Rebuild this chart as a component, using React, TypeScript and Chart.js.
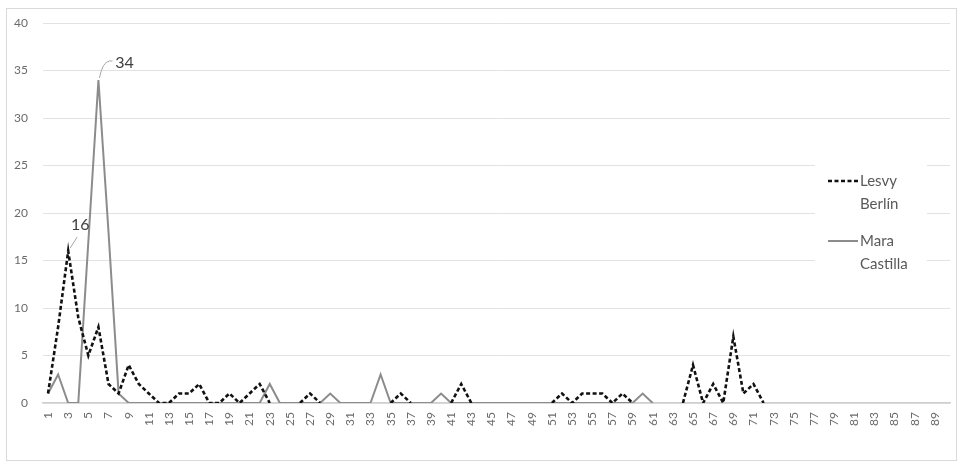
import React, { useEffect, useRef } from "react";
import { Chart, registerables } from "chart.js";

Chart.register(...registerables);

const categories: string[] = Array.from({ length: 90 }, (_, i) => String(i + 1));

const seriesNames = ["Lesvy Berlín", "Mara Castilla"];

const lesvyBerlin: (number | null)[] = [
  1, 8, 16, 9, 5, 8, 2, 1, 4, 2,
  1, 0, 0, 1, 1, 2, 0, 0, 1, 0,
  1, 2, 0, null, null, 0, 1, 0, null, null,
  null, null, null, null, 0, 1, 0, null, null, null,
  0, 2, 0, null, null, null, null, null, null, null,
  0, 1, 0, 1, 1, 1, 0, 1, 0, null,
  null, null, null, 0, 4, 0, 2, 0, 7, 1,
  2, 0, null, null, null, null, null, null, null, null,
  null, null, null, null, null, null, null, null, null, null,
];

const maraCastilla: (number | null)[] = [
  1, 3, 0, 0, 17, 34, 18, 1, 0, 0,
  0, 0, 0, 0, 0, 0, 0, 0, 0, 0,
  0, 0, 2, 0, 0, 0, 0, 0, 1, 0,
  0, 0, 0, 3, 0, 0, 0, 0, 0, 1,
  0, 0, 0, 0, 0, 0, 0, 0, 0, 0,
  0, 0, 0, 0, 0, 0, 0, 0, 0, 1,
  0, null, null, null, null, null, null, null, null, null,
  null, null, null, null, null, null, null, null, null, null,
  null, null, null, null, null, null, null, null, null, null,
];

const yTicks = [0, 5, 10, 15, 20, 25, 30, 35, 40];

const FONT = "Lato, 'Open Sans', sans-serif";

// label placement offsets (style only)
const labelStyle = [
  { dx: 12, dy: -26, lx1: 2, ly1: -3, lx2: 9, ly2: -14, curve: false },
  { dx: 26, dy: -17, lx1: 1, ly1: -2, lx2: 11, ly2: -19, curve: true },
];

const dataLabelPlugin = {
  id: "dataLabelPlugin",
  afterDatasetsDraw(chart: any) {
    const ctx = chart.ctx;
    chart.data.datasets.forEach((ds: any, di: number) => {
      const vals = ds.data as (number | null)[];
      let mi = 0;
      vals.forEach((v, i) => {
        if (v != null && v > (vals[mi] ?? -Infinity)) mi = i;
      });
      const pt = chart.getDatasetMeta(di).data[mi];
      if (!pt) return;
      const st = labelStyle[di];
      ctx.save();
      ctx.strokeStyle = "#a6a6a6";
      ctx.lineWidth = 1;
      ctx.beginPath();
      ctx.moveTo(pt.x + st.lx1, pt.y + st.ly1);
      if (st.curve) {
        ctx.quadraticCurveTo(pt.x + st.lx1 + 3, pt.y + st.ly2 + 1, pt.x + st.lx2, pt.y + st.ly2);
        ctx.lineTo(pt.x + st.lx2 + 3, pt.y + st.ly2);
      } else {
        ctx.lineTo(pt.x + st.lx2, pt.y + st.ly2);
      }
      ctx.stroke();
      ctx.fillStyle = "#404040";
      ctx.font = `16px ${FONT}`;
      ctx.textAlign = "center";
      ctx.textBaseline = "middle";
      ctx.fillText(String(vals[mi]), pt.x + st.dx, pt.y + st.dy);
      ctx.restore();
    });
  },
};

const legendPlugin = {
  id: "customLegend",
  afterDraw(chart: any) {
    const ctx = chart.ctx;
    const area = chart.chartArea;
    const bx = area.right - 135;
    const by = area.top + 142;
    ctx.save();
    ctx.fillStyle = "#ffffff";
    ctx.fillRect(bx, by, 112, 116);
    chart.data.datasets.forEach((ds: any, i: number) => {
      const ly = by + 16 + i * 60;
      ctx.strokeStyle = ds.borderColor;
      ctx.lineWidth = ds.borderWidth;
      ctx.setLineDash(ds.borderDash || []);
      ctx.beginPath();
      ctx.moveTo(bx + 13, ly);
      ctx.lineTo(bx + 43, ly);
      ctx.stroke();
      ctx.setLineDash([]);
      ctx.fillStyle = "#595959";
      ctx.font = `15px ${FONT}`;
      ctx.textAlign = "left";
      ctx.textBaseline = "middle";
      const parts = String(ds.label).split(" ");
      parts.forEach((p, k) => ctx.fillText(p, bx + 45, ly + k * 23));
    });
    ctx.restore();
  },
};

export default function App() {
  const ref = useRef<HTMLCanvasElement | null>(null);
  useEffect(() => {
    if (!ref.current) return;
    const chart = new Chart(ref.current, {
      type: "line",
      data: {
        labels: categories,
        datasets: [
          {
            label: seriesNames[0],
            data: lesvyBerlin,
            borderColor: "#111111",
            borderWidth: 2.6,
            borderDash: [4, 2.5],
            pointRadius: 0,
            tension: 0,
            spanGaps: false,
          },
          {
            label: seriesNames[1],
            data: maraCastilla,
            borderColor: "#8c8c8c",
            borderWidth: 2,
            pointRadius: 0,
            tension: 0,
            spanGaps: false,
          },
        ],
      },
      options: {
        responsive: false,
        animation: false,
        layout: { padding: { top: 14, right: 6, left: 0, bottom: 0 } },
        plugins: {
          legend: { display: false },
          tooltip: { enabled: false },
        },
        scales: {
          x: {
            offset: true,
            grid: { display: false, drawTicks: false, offset: true },
            border: { display: true, color: "#cfcfcf", width: 1.5 },
            ticks: {
              autoSkip: false,
              maxRotation: 90,
              minRotation: 90,
              padding: 9,
              color: "#6b6b6b",
              font: { family: FONT, size: 12 },
              callback: (_v: any, i: number) => (i % 2 === 0 ? categories[i] : ""),
            },
            afterFit: (s: any) => {
              s.height = 57;
              s.paddingLeft = 0;
              s.paddingRight = 0;
            },
          },
          y: {
            min: yTicks[0],
            max: yTicks[yTicks.length - 1],
            afterBuildTicks: (s: any) => {
              s.ticks = yTicks.map((v) => ({ value: v }));
            },
            grid: { color: "#e2e2e2", lineWidth: 1, drawTicks: false },
            border: { display: false },
            ticks: {
              padding: 15,
              color: "#6b6b6b",
              font: { family: FONT, size: 12 },
            },
            afterFit: (s: any) => {
              s.width = 36;
              s.paddingTop = 0;
              s.paddingBottom = 0;
            },
          },
        },
      },
      plugins: [dataLabelPlugin, legendPlugin],
    });
    return () => chart.destroy();
  }, []);

  return (
    <div
      style={{
        position: "absolute",
        left: 6,
        top: 8,
        width: 951,
        height: 453,
        boxSizing: "border-box",
        border: "1px solid #d9d9d9",
        background: "#fff",
      }}
    >
      <canvas ref={ref} width={949} height={451} style={{ display: "block", width: 949, height: 451 }} />
    </div>
  );
}
